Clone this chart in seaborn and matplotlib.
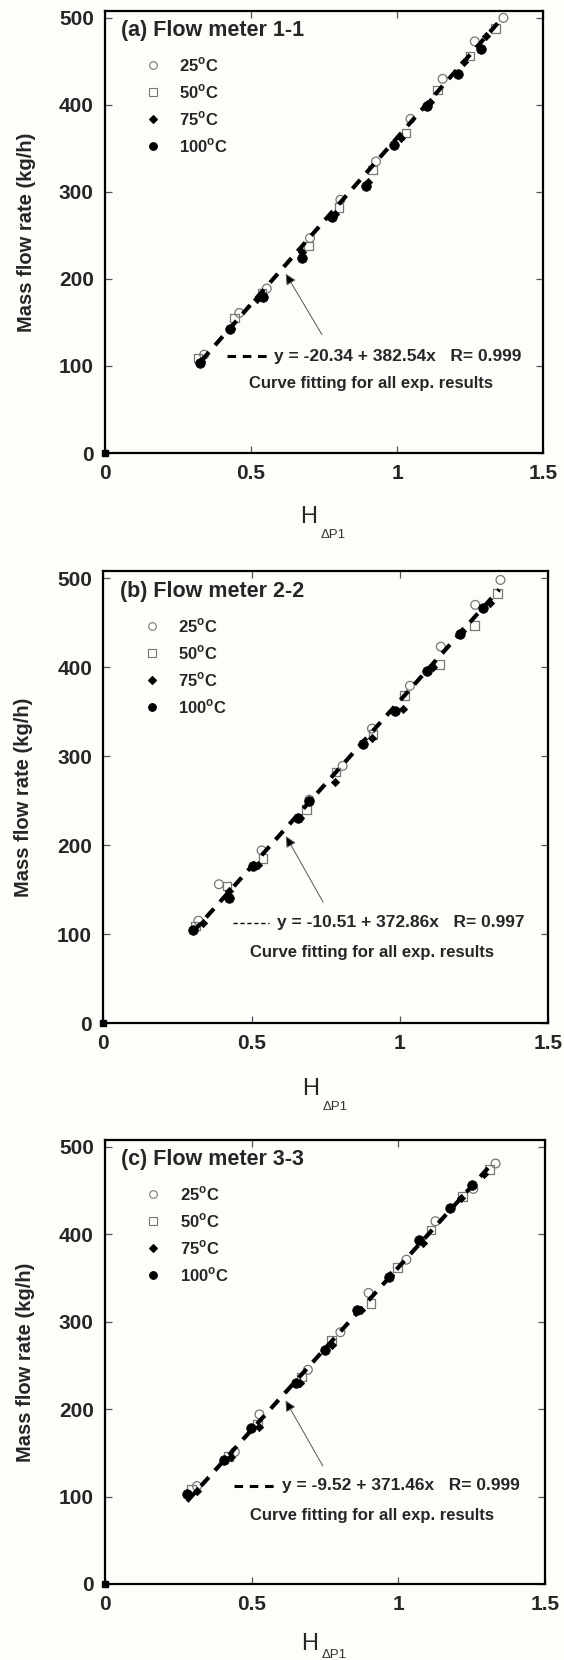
import numpy as np
import pandas as pd
import matplotlib
matplotlib.use('Agg')
import matplotlib.pyplot as plt
import seaborn as sns
from matplotlib.lines import Line2D

sns.set_style('ticks')
plt.rcParams['font.family'] = ['Liberation Sans', 'DejaVu Sans']
plt.rcParams['mathtext.fontset'] = 'custom'
plt.rcParams['mathtext.rm'] = 'Liberation Sans'
plt.rcParams['mathtext.bf'] = 'Liberation Sans:bold'

temps = ['25', '50', '75', '100']

# (a) Flow meter 1-1
a_h25 = [0.340, 0.460, 0.554, 0.702, 0.806, 0.928, 1.046, 1.156, 1.266, 1.364]
a_m25 = [113, 161, 189, 247, 291, 335, 384, 430, 473, 500]
a_h50 = [0.319, 0.443, 0.538, 0.696, 0.802, 0.916, 1.031, 1.139, 1.250, 1.337]
a_m50 = [109, 155, 184, 238, 282, 325, 368, 417, 456, 488]
a_h75 = [0.330, 0.433, 0.520, 0.675, 0.786, 0.901, 1.015, 1.114, 1.228, 1.306]
a_m75 = [106, 144, 177, 231, 275, 312, 362, 403, 449, 479]
a_h100 = [0.326, 0.428, 0.541, 0.675, 0.777, 0.894, 0.988, 1.104, 1.207, 1.287]
a_m100 = [103, 142, 179, 224, 271, 307, 354, 399, 435, 464]

# (b) Flow meter 2-2
b_h25 = [0.321, 0.390, 0.534, 0.695, 0.807, 0.906, 1.034, 1.138, 1.254, 1.339]
b_m25 = [115, 156, 194, 251, 289, 331, 379, 423, 470, 498]
b_h50 = [0.311, 0.417, 0.539, 0.685, 0.784, 0.909, 1.016, 1.134, 1.252, 1.329]
b_m50 = [109, 154, 185, 240, 282, 324, 368, 403, 447, 483]
b_h75 = [0.335, 0.424, 0.522, 0.662, 0.781, 0.905, 1.009, 1.112, 1.210, 1.305]
b_m75 = [113, 148, 178, 231, 271, 320, 353, 400, 441, 472]
b_h100 = [0.301, 0.423, 0.506, 0.655, 0.695, 0.876, 0.982, 1.091, 1.201, 1.280]
b_m100 = [105, 140, 177, 230, 250, 314, 351, 396, 437, 466]

# (c) Flow meter 3-3
c_h25 = [0.314, 0.443, 0.527, 0.692, 0.803, 0.899, 1.028, 1.127, 1.256, 1.332]
c_m25 = [112, 151, 194, 245, 288, 333, 371, 415, 452, 481]
c_h50 = [0.296, 0.421, 0.520, 0.671, 0.773, 0.908, 0.998, 1.112, 1.219, 1.312]
c_m50 = [108, 146, 183, 237, 279, 321, 362, 405, 443, 474]
c_h75 = [0.314, 0.431, 0.527, 0.665, 0.773, 0.874, 0.973, 1.084, 1.213, 1.293]
c_m75 = [106, 145, 180, 230, 273, 313, 353, 390, 442, 469]
c_h100 = [0.281, 0.406, 0.499, 0.650, 0.751, 0.860, 0.967, 1.071, 1.176, 1.250]
c_m100 = [103, 142, 178, 230, 268, 313, 351, 393, 430, 456]

origin_h = [0]
origin_m = [0]

titles = ['(a) Flow meter 1-1', '(b) Flow meter 2-2', '(c) Flow meter 3-3']
fit_intercepts = [-20.34, -10.51, -9.52]
fit_slopes = [382.54, 372.86, 371.46]
fit_r = [0.999, 0.997, 0.999]
fit_start = [0.33, 0.30, 0.28]
fit_end = [1.365, 1.335, 1.325]

panels = [
    [(a_h25, a_m25), (a_h50, a_m50), (a_h75, a_m75), (a_h100, a_m100)],
    [(b_h25, b_m25), (b_h50, b_m50), (b_h75, b_m75), (b_h100, b_m100)],
    [(c_h25, c_m25), (c_h50, c_m50), (c_h75, c_m75), (c_h100, c_m100)],
]

# axes rectangles in figure fractions
rects = [[0.186, 0.7271, 0.777, 0.2663],
         [0.183, 0.3837, 0.789, 0.2723],
         [0.186, 0.0458, 0.780, 0.2675]]
# positions (axes fraction) of the fit annotation
ann_pos = [(0.279, 0.379, 0.386, 0.219, 0.329, 0.158),
           (0.292, 0.373, 0.390, 0.222, 0.329, 0.157),
           (0.293, 0.393, 0.402, 0.221, 0.330, 0.155)]
arrow_tail = [(0.743, 136), (0.741, 136), (0.743, 135)]
arrow_head = [(0.619, 206), (0.616, 210), (0.616, 210)]
# x-label (H, subscript) vertical positions in axes fraction
xlab_y = [(-0.145, -0.185), (-0.145, -0.185), (-0.135, -0.160)]

styles = {
    '25': dict(marker='o', s=40, facecolor='none', edgecolor='#777777', color='#777777', linewidth=0.9),
    '50': dict(marker='s', s=38, facecolor='none', edgecolor='#777777', color='#777777', linewidth=0.9),
    '75': dict(marker='D', s=18, facecolor='black', edgecolor='black', color='black', linewidth=0.5),
    '100': dict(marker='o', s=48, facecolor='black', edgecolor='black', color='black', linewidth=0.5),
}

fig = plt.figure(figsize=(5.64, 16.6), dpi=100)
fig.patch.set_facecolor('#fdfdfa')

for i, series in enumerate(panels):
    ax = fig.add_axes(rects[i])
    ax.set_facecolor('#fdfdfa')
    for t, (h, m) in zip(temps, series):
        df = pd.DataFrame({'H': h, 'm': m})
        sns.scatterplot(data=df, x='H', y='m', ax=ax, legend=False, zorder=3, **styles[t])

    xs = np.array([fit_start[i], fit_end[i]])
    sns.lineplot(x=xs, y=fit_intercepts[i] + fit_slopes[i] * xs, ax=ax, color='black',
                 linewidth=3.0, dashes=(2.8, 2.2), zorder=4)
    ax.plot(origin_h, origin_m, marker='s', color='black', markersize=5, clip_on=False, zorder=5)

    ax.set_xlim(0, 1.5)
    ax.set_ylim(0, 508)
    ax.set_xticks([0, 0.5, 1, 1.5])
    ax.set_xticklabels(['0', '0.5', '1', '1.5'])
    ax.set_yticks([0, 100, 200, 300, 400, 500])
    ax.tick_params(direction='in', length=5, width=0.9, top=True, right=True,
                   labelsize=15, pad=8, color='#555555')
    for lab in ax.get_xticklabels() + ax.get_yticklabels():
        lab.set_fontweight('bold')
    for sp in ax.spines.values():
        sp.set_visible(True)
        sp.set_linewidth(1.6)
        sp.set_color('black')

    ax.set_xlabel('')
    ax.set_ylabel('Mass flow rate (kg/h)', fontsize=14.5, fontweight='bold')
    ax.yaxis.set_label_coords(-0.158, 0.5)
    hy, sy = xlab_y[i]
    ax.text(0.466, hy, 'H', transform=ax.transAxes, ha='center', va='center', fontsize=17)
    ax.text(0.493, sy, '\u0394P1', transform=ax.transAxes, ha='left', va='center',
            fontsize=9.5, color='#333333')

    ax.text(0.037, 0.955, titles[i], transform=ax.transAxes, ha='left', va='center',
            fontsize=15.5, fontweight='bold')

    handles = [Line2D([], [], linestyle='none', marker=styles[t]['marker'],
                      markerfacecolor=styles[t]['facecolor'], markeredgecolor=styles[t]['edgecolor'],
                      markersize=5.5 if t != '75' else 4, markeredgewidth=0.8) for t in temps]
    labels = [t + r'$^{\mathbf{o}}$C' for t in temps]
    ax.legend(handles, labels, loc='upper left', bbox_to_anchor=(0.075, 0.915), frameon=False,
              prop={'weight': 'bold', 'size': 12}, handletextpad=1.1, labelspacing=0.5,
              handlelength=1.0, borderaxespad=0)

    dx0, dx1, tx, ty, tx2, ty2 = ann_pos[i]
    dash_lw = 2.2 if i != 1 else 1.0
    dash_pat = (2.8, 2.2) if i != 1 else (3, 2)
    ax.plot([dx0, dx1], [ty, ty], transform=ax.transAxes, color='black', linewidth=dash_lw,
            dashes=dash_pat)
    ax.text(tx, ty, 'y = %.2f + %.2fx   R= %.3f' % (fit_intercepts[i], fit_slopes[i], fit_r[i]),
            transform=ax.transAxes, ha='left', va='center', fontsize=12.5, fontweight='bold')
    ax.text(tx2, ty2, 'Curve fitting for all exp. results', transform=ax.transAxes,
            ha='left', va='center', fontsize=12, fontweight='bold')

    ax.annotate('', xy=arrow_head[i], xytext=arrow_tail[i],
                arrowprops=dict(arrowstyle='-|>', fc='black', ec='#555555', lw=0.7,
                                mutation_scale=16, shrinkA=0, shrinkB=0), zorder=6)

fig.savefig('out.png', dpi=100, facecolor=fig.get_facecolor())
